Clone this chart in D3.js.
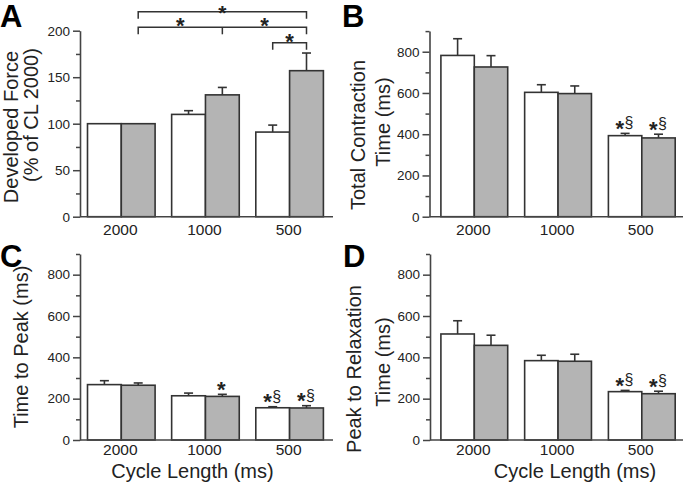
<!DOCTYPE html>
<html><head><meta charset="utf-8">
<script src="https://cdn.jsdelivr.net/npm/d3@7"></script>
<style>
html,body{margin:0;padding:0;background:#fff;}
svg{display:block;font-family:"Liberation Sans",Arial,sans-serif;}
</style></head>
<body>
<svg id="chart" width="685" height="483"></svg>
<script>
const categories = ["2000","1000","500"];
const series = ["control","treated"];

// Panel A: Developed Force (% of CL 2000)
const forceWhite = [100, 110, 91];
const forceGray  = [100, 131, 157];
const forceWhiteErr = [0, 4, 7.5];
const forceGrayErr  = [0, 8, 19];

// Panel B: Total Contraction Time (ms)
const tctWhite = [782, 603, 393];
const tctGray  = [726, 597, 382];
const tctWhiteErr = [81, 37, 11];
const tctGrayErr  = [55, 37, 18];

// Panel C: Time to Peak (ms)
const ttpWhite = [268, 214, 156];
const ttpGray  = [265, 211, 155];
const ttpWhiteErr = [19, 13, 5];
const ttpGrayErr  = [11, 10, 11];

// Panel D: Peak to Relaxation Time (ms)
const ptrWhite = [513, 384, 234];
const ptrGray  = [458, 381, 224];
const ptrWhiteErr = [64, 26, 6];
const ptrGrayErr  = [49, 34, 12];

const forceTicks = [0, 50, 100, 150, 200];
const forceMinor = [25, 75, 125, 175];
const timeTicks = [0, 200, 400, 600, 800];
const timeMinor = [100, 300, 500, 700, 900];

// significance brackets for panel A
const bracketsA = [
  {from:["2000","treated"], to:["500","treated"], level:0, mids:[]},
  {from:["2000","treated"], to:["500","treated"], level:1, mids:[["1000","treated"]]},
  {from:["500","control"], to:["500","treated"], level:2, mids:[]}
];

const annB = [{cat:"500", s:"control", t:"*§"},{cat:"500", s:"treated", t:"*§"}];
const annC = [{cat:"1000", s:"treated", t:"*"},{cat:"500", s:"control", t:"*§"},{cat:"500", s:"treated", t:"*§"}];
const annD = [{cat:"500", s:"control", t:"*§"},{cat:"500", s:"treated", t:"*§"}];

const svg = d3.select("#chart");
const INK = "#222";
const GRAY = "#b4b4b4";

function panel(cfg){
  const g = svg.append("g");
  const y = d3.scaleLinear().domain(cfg.domain).range([cfg.y0, cfg.y1]);
  const xc = d3.scalePoint().domain(categories).range([cfg.c0, cfg.c1]);
  const xs = d3.scaleBand().domain(series).range([-cfg.bw, cfg.bw]);
  const data = [];
  categories.forEach((c,i)=>{
    data.push({cat:c, s:"control", v:cfg.white[i], e:cfg.whiteErr[i]});
    data.push({cat:c, s:"treated", v:cfg.gray[i], e:cfg.grayErr[i]});
  });
  const bx = d => xc(d.cat) + xs(d.s);
  const cx = d => xc(d.cat) + xs(d.s) + xs.bandwidth()/2;

  // error bars
  const eb = g.selectAll(".eb").data(data.filter(d=>d.e>0)).enter().append("g");
  eb.append("line").attr("x1",cx).attr("x2",cx).attr("y1",d=>y(d.v)).attr("y2",d=>y(d.v+d.e))
    .attr("stroke","#333").attr("stroke-width",1.6);
  eb.append("line").attr("x1",d=>cx(d)-4.5).attr("x2",d=>cx(d)+4.5).attr("y1",d=>y(d.v+d.e)).attr("y2",d=>y(d.v+d.e))
    .attr("stroke","#333").attr("stroke-width",1.6);

  // bars
  g.selectAll(".bar").data(data).enter().append("rect")
    .attr("x",bx).attr("width",xs.bandwidth())
    .attr("y",d=>y(d.v)).attr("height",d=>y(0)-y(d.v))
    .attr("fill",d=>d.s==="control"?"#fff":GRAY)
    .attr("stroke","#333").attr("stroke-width",1.6);

  // y axis
  const ax = g.append("g").attr("transform",`translate(${cfg.ax},0)`)
    .call(d3.axisLeft(y).tickValues(cfg.ticks).tickSize(7).tickSizeOuter(0).tickPadding(3));
  ax.select(".domain").attr("stroke","#444").attr("stroke-width",1.6);
  ax.selectAll(".tick line").attr("stroke","#444").attr("stroke-width",1.5);
  ax.selectAll(".tick text").attr("fill",INK).style("font-size","13.5px").style("font-family","Liberation Sans, Arial, sans-serif");
  const mn = g.append("g").attr("transform",`translate(${cfg.ax},0)`)
    .call(d3.axisLeft(y).tickValues(cfg.minor).tickSize(4).tickFormat(""));
  mn.select(".domain").remove();
  mn.selectAll(".tick line").attr("stroke","#444").attr("stroke-width",1.5);

  // x axis baseline
  g.append("line").attr("x1",cfg.ax).attr("x2",cfg.xEnd).attr("y1",y(0)).attr("y2",y(0))
    .attr("stroke","#444").attr("stroke-width",1.6);
  g.selectAll(".xl").data(categories).enter().append("text")
    .attr("x",d=>xc(d)-1).attr("y",y(0)+cfg.xlOff).attr("text-anchor","middle")
    .attr("fill",INK).style("font-size","15.5px").text(d=>d);

  // y titles
  cfg.titles.forEach(t=>{
    g.append("text").attr("transform",`translate(${t.x},${t.y}) rotate(-90)`)
      .attr("text-anchor","middle").attr("fill",INK).style("font-size","20px").text(t.text);
  });
  // panel letter
  g.append("text").attr("x",cfg.letter[0]).attr("y",cfg.letter[1]).attr("fill","#000")
    .style("font-size","31px").style("font-weight","bold").text(cfg.letterText);

  if (cfg.xtitle){
    g.append("text").attr("x",cfg.xtitle[0]).attr("y",cfg.xtitle[1]).attr("text-anchor","middle")
      .attr("fill",INK).style("font-size","20px").text("Cycle Length (ms)");
  }

  // annotations
  (cfg.ann||[]).forEach(a=>{
    const d = data.find(q=>q.cat===a.cat && q.s===a.s);
    const top = y(d.v + d.e);
    const c = cx(d);
    if (a.t === "*"){
      g.append("text").attr("x",c-1).attr("y",top+2.5).attr("text-anchor","middle")
        .attr("fill",INK).style("font-size","22px").style("font-weight","bold").text("*");
    } else {
      g.append("text").attr("x",c-1).attr("y",top+2.5).attr("text-anchor","end")
        .attr("fill",INK).style("font-size","22px").style("font-weight","bold").text("*");
      g.append("text").attr("x",c-0.5).attr("y",top-5).attr("text-anchor","start")
        .attr("fill",INK).style("font-size","16px").text("§");
    }
  });

  return {g, y, xc, xs, cx:(cat,s)=>xc(cat)+xs(s)+xs.bandwidth()/2};
}

const pA = panel({domain:[0,200], y0:216.7, y1:30.7, c0:121.3, c1:289.6, bw:33.8, ax:80, xEnd:333,
  white:forceWhite, gray:forceGray, whiteErr:forceWhiteErr, grayErr:forceGrayErr,
  ticks:forceTicks, minor:forceMinor, xlOff:18.5,
  titles:[{x:18,y:127,text:"Developed Force"},{x:38,y:115,text:"(% of CL 2000)"}],
  letter:[0,27], letterText:"A"});

const pB = panel({domain:[0,900], y0:216.7, y1:31.1, c0:474.3, c1:641.8, bw:33.4, ax:429.5, xEnd:683,
  white:tctWhite, gray:tctGray, whiteErr:tctWhiteErr, grayErr:tctGrayErr,
  ticks:timeTicks, minor:timeMinor, xlOff:18.5,
  titles:[{x:365,y:135,text:"Total Contraction"},{x:390,y:122,text:"Time (ms)"}],
  letter:[342,27], letterText:"B", ann:annB});

const pC = panel({domain:[0,900], y0:440, y1:254, c0:121.3, c1:289.6, bw:33.8, ax:80, xEnd:333,
  white:ttpWhite, gray:ttpGray, whiteErr:ttpWhiteErr, grayErr:ttpGrayErr,
  ticks:timeTicks, minor:timeMinor, xlOff:15,
  titles:[{x:28,y:347,text:"Time to Peak (ms)"}],
  letter:[0,267], letterText:"C", ann:annC, xtitle:[192.5,477.5]});

const pD = panel({domain:[0,900], y0:440, y1:254, c0:474.3, c1:641.8, bw:33.4, ax:430, xEnd:683,
  white:ptrWhite, gray:ptrGray, whiteErr:ptrWhiteErr, grayErr:ptrGrayErr,
  ticks:timeTicks, minor:timeMinor, xlOff:15,
  titles:[{x:361,y:369,text:"Peak to Relaxation"},{x:390,y:362,text:"Time (ms)"}],
  letter:[343,267], letterText:"D", ann:annD, xtitle:[575,477.5]});

// significance brackets (panel A)
const bracketY = [11.7, 27.3, 42.7];
const starOff = [7.8, 6, 6];
const starSize = [21, 22, 22];
const drop = 7;
bracketsA.forEach(b=>{
  const x1 = pA.cx(b.from[0], b.from[1]);
  const x2 = pA.cx(b.to[0], b.to[1]);
  const yy = bracketY[b.level];
  const pts = [[x1,yy+drop],[x1,yy],[x2,yy],[x2,yy+drop]];
  pA.g.append("path").attr("d",d3.line()(pts)).attr("fill","none").attr("stroke","#333").attr("stroke-width",1.5);
  const stops = [x1];
  b.mids.forEach(m=>{
    const xm = pA.cx(m[0], m[1]);
    pA.g.append("line").attr("x1",xm).attr("x2",xm).attr("y1",yy).attr("y2",yy+drop).attr("stroke","#333").attr("stroke-width",1.5);
    stops.push(xm);
  });
  stops.push(x2);
  for (let i=0;i<stops.length-1;i++){
    pA.g.append("text").attr("x",(stops[i]+stops[i+1])/2).attr("y",yy+starOff[b.level]).attr("text-anchor","middle")
      .attr("fill",INK).style("font-size",starSize[b.level]+"px").style("font-weight","bold").text("*");
  }
});
</script>
</body></html>
